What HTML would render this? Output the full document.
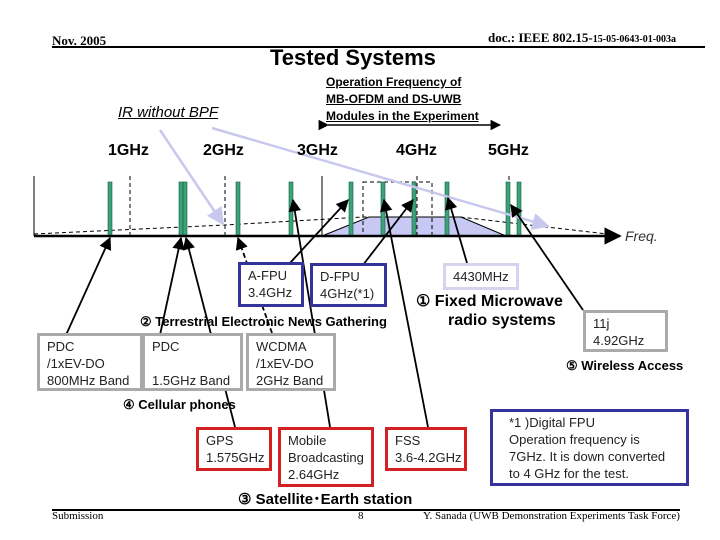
<!DOCTYPE html>
<html><head><meta charset="utf-8"><style>
html,body{margin:0;padding:0;background:#fff}
body{width:720px;height:540px;position:relative;overflow:hidden;font-family:"Liberation Sans",sans-serif}
.t{position:absolute;white-space:nowrap;line-height:1}
.b{position:absolute;box-sizing:border-box;background:#fff;font-size:13px;line-height:17px;padding:2px 0 0 7px;color:#222}
.g{border:3px solid #aaa}.bl{border:3px solid #33339a}.r{border:3px solid #d42020}
.lbl{font-weight:bold;font-size:14px}
</style></head><body>
<svg width="720" height="540" style="position:absolute;left:0;top:0">
<defs>
<marker id="a" viewBox="0 0 10 10" refX="9" refY="5" markerWidth="7" markerHeight="7" orient="auto"><path d="M0,0L10,5L0,10z" fill="#000"/></marker>
<marker id="p" viewBox="0 0 10 10" refX="9" refY="5" markerWidth="7" markerHeight="7" orient="auto"><path d="M0,0L10,5L0,10z" fill="#c8c8ee"/></marker>
</defs>
<line x1="52" y1="47" x2="705" y2="47" stroke="#000" stroke-width="2"/>
<line x1="52" y1="510" x2="680" y2="510" stroke="#000" stroke-width="2"/>
<line x1="328" y1="125" x2="500" y2="125" stroke="#000" stroke-width="1.5" marker-end="url(#a)" marker-start="url(#a)"/>
<polygon points="322,236 369,217 461,217 506,236" fill="#c8c8f4" stroke="#000" stroke-width="1"/>
<g stroke="#000" stroke-width="1" stroke-dasharray="4,3" fill="none">
<line x1="130" y1="176" x2="130" y2="236"/><line x1="225" y1="176" x2="225" y2="236"/>
<line x1="417" y1="176" x2="417" y2="236"/><line x1="509" y1="176" x2="509" y2="236"/>
<rect x="363" y="182" width="69" height="54"/>
<polyline points="34,234 225,225 363,217 460,217 616,235"/>
</g>
<line x1="322" y1="176" x2="322" y2="236" stroke="#000"/>
<line x1="34" y1="176" x2="34" y2="236" stroke="#000"/>
<g fill="#3aa37a" stroke="#1d5a40" stroke-width="0.6">
<rect x="108" y="182" width="4" height="54"/><rect x="179" y="182" width="4" height="54"/><rect x="183" y="182" width="4" height="54"/>
<rect x="236" y="182" width="4" height="54"/><rect x="289" y="182" width="4" height="54"/><rect x="349" y="182" width="4" height="54"/>
<rect x="381" y="182" width="4" height="54"/><rect x="412" y="182" width="4" height="54"/><rect x="445" y="182" width="4" height="54"/>
<rect x="506" y="182" width="4" height="54"/><rect x="517" y="182" width="4" height="54"/>
</g>
<line x1="34" y1="236" x2="620" y2="236" stroke="#000" stroke-width="2.5" marker-end="url(#a)"/>
<line x1="160" y1="130" x2="223" y2="224" stroke="#c8c8ee" stroke-width="2.5" marker-end="url(#p)"/>
<line x1="212" y1="128" x2="548" y2="226" stroke="#c8c8ee" stroke-width="2.5" marker-end="url(#p)"/>
<g stroke="#000" stroke-width="1.8" fill="none" marker-end="url(#a)">
<line x1="66" y1="335" x2="110" y2="238"/>
<line x1="160" y1="335" x2="181" y2="238"/>
<line x1="235" y1="427" x2="186" y2="238"/>
<line x1="272" y1="333" x2="238" y2="238" stroke-dasharray="5,3"/>
<line x1="290" y1="263" x2="348" y2="200"/>
<line x1="330" y1="427" x2="293" y2="200"/>
<line x1="363" y1="265" x2="413" y2="200"/>
<line x1="428" y1="427" x2="384" y2="200"/>
<line x1="467" y1="263" x2="448" y2="198"/>
<line x1="583" y1="310" x2="511" y2="205"/>
</g>
</svg>
<div class="t" style="left:52px;top:34px;font-family:'Liberation Serif',serif;font-weight:bold;font-size:13px">Nov. 2005</div>
<div class="t" style="left:488px;top:31px;font-family:'Liberation Serif',serif;font-weight:bold;font-size:13px">doc.: IEEE 802.15-<span style="font-size:10px">15-05-0643-01-003a</span></div>
<div class="t" style="left:270px;top:47px;font-weight:bold;font-size:22px">Tested Systems</div>
<div class="t" style="left:326px;top:74px;font-weight:bold;font-size:12px;line-height:17px;text-decoration:underline">Operation Frequency of<br>MB-OFDM and DS-UWB<br>Modules in the Experiment</div>
<div class="t" style="left:118px;top:105px;font-style:italic;font-size:15px;text-decoration:underline">IR without BPF</div>
<div class="t lbl" style="left:108px;top:143px;font-size:16px">1GHz</div>
<div class="t lbl" style="left:203px;top:143px;font-size:16px">2GHz</div>
<div class="t lbl" style="left:297px;top:143px;font-size:16px">3GHz</div>
<div class="t lbl" style="left:396px;top:143px;font-size:16px">4GHz</div>
<div class="t lbl" style="left:488px;top:143px;font-size:16px">5GHz</div>
<div class="t" style="left:625px;top:229px;font-style:italic;font-size:14px;color:#333">Freq.</div>
<div class="b bl" style="left:238px;top:262px;width:66px;height:45px">A-FPU<br>3.4GHz</div>
<div class="b bl" style="left:310px;top:263px;width:77px;height:44px">D-FPU<br>4GHz(*1)</div>
<div class="b" style="left:443px;top:263px;width:76px;height:27px;border:3px solid #d4d4f0">4430MHz</div>
<div class="b g" style="left:583px;top:310px;width:85px;height:42px">11j<br>4.92GHz</div>
<div class="b g" style="left:37px;top:333px;width:106px;height:58px">PDC<br>/1xEV-DO<br>800MHz Band</div>
<div class="b g" style="left:142px;top:333px;width:101px;height:58px">PDC<br><br>1.5GHz Band</div>
<div class="b g" style="left:246px;top:333px;width:90px;height:58px">WCDMA<br>/1xEV-DO<br>2GHz Band</div>
<div class="b r" style="left:196px;top:427px;width:76px;height:44px">GPS<br>1.575GHz</div>
<div class="b r" style="left:278px;top:427px;width:96px;height:60px">Mobile<br>Broadcasting<br>2.64GHz</div>
<div class="b r" style="left:385px;top:427px;width:82px;height:44px">FSS<br>3.6-4.2GHz</div>
<div class="b bl" style="left:490px;top:409px;width:199px;height:77px;padding-left:16px">*1 )Digital FPU<br>Operation frequency is<br>7GHz. It is down converted<br>to 4 GHz for the test.</div>
<div class="t lbl" style="left:140px;top:315px;font-size:13px">② Terrestrial Electronic News Gathering</div>
<div class="t lbl" style="left:123px;top:398px;font-size:13px">④ Cellular phones</div>
<div class="t lbl" style="left:238px;top:492px;font-size:15px">③ Satellite･Earth station</div>
<div class="t lbl" style="left:416px;top:294px;font-size:16px">① Fixed Microwave</div>
<div class="t lbl" style="left:448px;top:313px;font-size:16px">radio systems</div>
<div class="t lbl" style="left:566px;top:359px;font-size:13px">⑤ Wireless Access</div>
<div class="t" style="left:52px;top:511px;font-family:'Liberation Serif',serif;font-size:11px">Submission</div>
<div class="t" style="left:358px;top:511px;font-family:'Liberation Serif',serif;font-size:11px">8</div>
<div class="t" style="left:423px;top:511px;font-family:'Liberation Serif',serif;font-size:11px">Y. Sanada (UWB Demonstration Experiments Task Force)</div>
</body></html>
